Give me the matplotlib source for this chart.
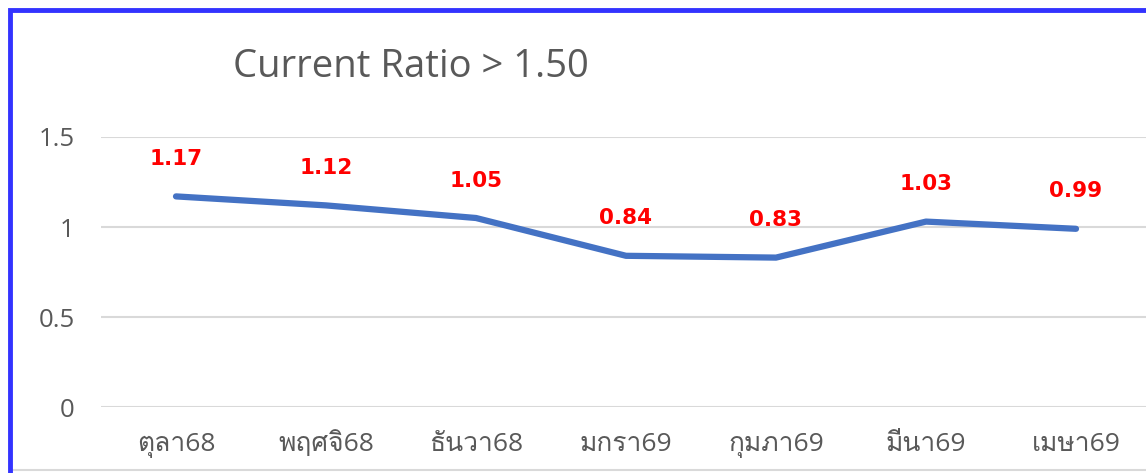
import matplotlib
matplotlib.use("Agg")
import matplotlib.pyplot as plt
from matplotlib import font_manager
from matplotlib.ft2font import FT2Font
from matplotlib.patches import Rectangle
from matplotlib.lines import Line2D

# data
months = ["ตุลา68", "พฤศจิ68", "ธันวา68", "มกรา69", "กุมภา69", "มีนา69", "เมษา69"]
ratio = [1.17, 1.12, 1.05, 0.84, 0.83, 1.03, 0.99]
yticks = [0, 0.5, 1, 1.5]
ytick_labels = ["0", "0.5", "1", "1.5"]
title = "Current Ratio > 1.50"

# find an installed font that has Thai glyphs
thai_family = None
for f in font_manager.fontManager.ttflist:
    try:
        if 0x0E01 in FT2Font(f.fname).get_charmap():
            thai_family = f.name
            break
    except Exception:
        pass
families = ["Open Sans"]
if thai_family:
    families.append(thai_family)
families.append("DejaVu Sans")
plt.rcParams["font.family"] = families

W, H = 1146, 473
fig = plt.figure(figsize=(W / 100, H / 100), dpi=100)

ax = fig.add_axes([101 / W, 66 / H, 1050 / W, 270 / H])
x = list(range(len(months)))
ax.plot(x, ratio, color="#4472C4", lw=4.5, solid_capstyle="round",
        solid_joinstyle="round", zorder=3)
for i, v in zip(x, ratio):
    ax.annotate(f"{v:.2f}", (i, v), xytext=(0, 27), textcoords="offset points",
                ha="center", va="center", color="red", fontsize=15.5,
                fontweight="bold", family=["DejaVu Sans"])

ax.set_xlim(-0.5, len(months) - 0.5)
ax.set_ylim(0, 1.5)
ax.set_yticks(yticks)
ax.set_yticklabels(ytick_labels)
ax.set_xticks(x)
ax.set_xticklabels(months)
ax.tick_params(axis="y", length=0, pad=19, labelsize=18.5, labelcolor="#595959")
ax.tick_params(axis="x", length=0, pad=32, labelsize=19, labelcolor="#595959")
for lab in ax.get_xticklabels():
    lab.set_va("baseline")
ax.grid(axis="y", color="#D9D9D9", lw=1.5)
ax.set_axisbelow(True)
for s in ax.spines.values():
    s.set_visible(False)

fig.text(411 / W, (H - 67) / H, title, ha="center", va="center",
         fontsize=27.5, color="#595959")

# faint bottom edge of the chart box
fig.lines.append(Line2D([12 / W, 1], [3 / H, 3 / H], transform=fig.transFigure,
                        color="#D9D9D9", lw=1.5))

# blue frame
fig.patches.append(Rectangle((10 / W, -0.05), 1.1, (H - 10) / H + 0.05,
                             transform=fig.transFigure, fill=False,
                             edgecolor="#3333FF", lw=3.5, zorder=10))

fig.savefig("out.png", dpi=100)
